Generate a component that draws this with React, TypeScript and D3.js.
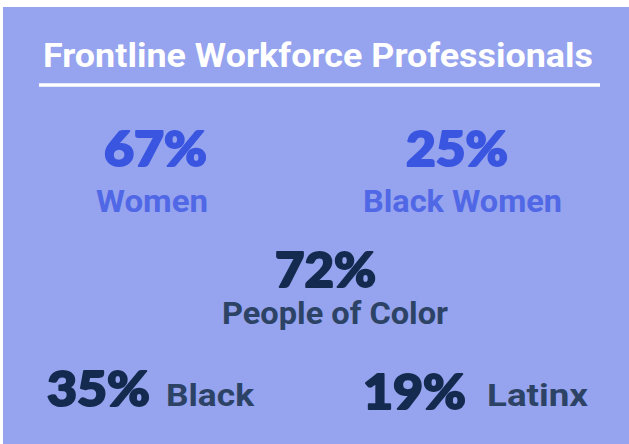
import * as d3 from 'd3'
import React, { useEffect, useRef } from "react";

const title = "Frontline Workforce Professionals";
const values = [67, 25, 72, 35, 19];
const labels = ["Women", "Black Women", "People of Color", "Black", "Latinx"];
const groups = ["gender", "gender", "race", "race", "race"];

// layout per stat: number box / label box, [left, right, baseline]
const numBox = [[104, 207, 166], [406, 508, 166], [275, 376, 287], [47, 150, 406], [363, 466, 409]];
const labBox = [[96, 208, 212], [363, 562, 212], [222, 448, 324], [166, 254, 406], [487, 588, 406]];

const numColor: Record<string, string> = { gender: "#3a56e0", race: "#142a4f" };
const labColor: Record<string, string> = { gender: "#5068e6", race: "#2c4365" };

const App: React.FC = () => {
    const ref = useRef<SVGSVGElement>(null);

    useEffect(() => {
        if (!ref.current) return;
        const width = 629;
        const height = 444;
        const svg = d3.select(ref.current);
        svg.selectAll('*').remove();
        svg.attr('width', width).attr('height', height);

        svg.append('rect')
            .attr('x', 3).attr('y', 7)
            .attr('width', width - 3).attr('height', height - 7)
            .attr('fill', '#96a3ee');

        svg.append('text')
            .attr('x', 43).attr('y', 67)
            .attr('textLength', 550)
            .attr('lengthAdjust', 'spacingAndGlyphs')
            .attr('font-family', 'Roboto, "Noto Sans", sans-serif')
            .attr('font-weight', 700)
            .attr('font-size', 33)
            .attr('fill', '#ffffff')
            .text(title);

        svg.append('line')
            .attr('x1', 39).attr('x2', 600)
            .attr('y1', 85).attr('y2', 85)
            .attr('stroke', '#ffffff')
            .attr('stroke-width', 3.5);

        const fmt = (v: number) => d3.format('d')(v) + '%';

        svg.selectAll('text.num')
            .data(values)
            .join('text')
            .attr('class', 'num')
            .attr('x', (_, i) => numBox[i][0])
            .attr('y', (_, i) => numBox[i][2])
            .attr('textLength', (_, i) => numBox[i][1] - numBox[i][0])
            .attr('lengthAdjust', 'spacingAndGlyphs')
            .attr('font-family', 'Lato, sans-serif')
            .attr('font-weight', 900)
            .attr('font-size', 48)
            .attr('fill', (_, i) => numColor[groups[i]])
            .attr('stroke', (_, i) => numColor[groups[i]])
            .attr('stroke-width', 2)
            .attr('stroke-linejoin', 'round')
            .text(d => fmt(d));

        svg.selectAll('text.lab')
            .data(labels)
            .join('text')
            .attr('class', 'lab')
            .attr('x', (_, i) => labBox[i][0])
            .attr('y', (_, i) => labBox[i][2])
            .attr('textLength', (_, i) => labBox[i][1] - labBox[i][0])
            .attr('lengthAdjust', 'spacingAndGlyphs')
            .attr('font-family', 'Roboto, "Noto Sans", sans-serif')
            .attr('font-weight', 700)
            .attr('font-size', 32)
            .attr('fill', (_, i) => labColor[groups[i]])
            .text(d => d);
    }, []);

    return (
        <svg ref={ref} style={{ position: 'absolute', left: 0, top: 0, display: 'block' }}></svg>
    );
}

export default App;
